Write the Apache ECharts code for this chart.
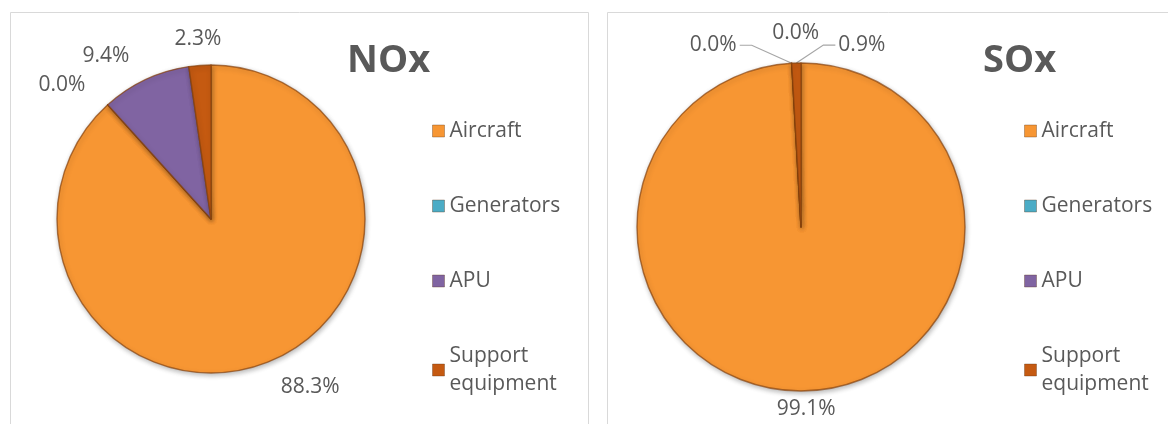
<!DOCTYPE html>
<html>
<head>
<meta charset="utf-8">
<title>NOx and SOx emission shares by source</title>
<script src="https://cdn.jsdelivr.net/npm/echarts@6/dist/echarts.min.js"></script>
<style>
  html, body { margin: 0; padding: 0; background: #ffffff; }
  #chart { width: 1168px; height: 424px; }
</style>
</head>
<body>
<div id="chart"></div>
<script>
// Emission sources and their share (%) of each pollutant
const categories = ['Aircraft', 'Generators', 'APU', 'Support equipment'];
const noxShares = [88.3, 0.0, 9.4, 2.3];
const soxShares = [99.1, 0.0, 0.0, 0.9];
const pollutants = ['NOx', 'SOx'];

const sliceColors = ['#F79633', '#4BACC6', '#8064A2', '#C55A11'];
const textGray = '#595959';
const fontFamily = '"Open Sans", "Liberation Sans", sans-serif';

function sliceData(shares) {
  return categories.map(function (name, i) {
    return {
      name: name,
      value: shares[i],
      itemStyle: { color: sliceColors[i] },
      // the dominant slice carries no leader line
      labelLine: { show: shares[i] < 5 }
    };
  });
}

function pctLabel(p) {
  return p.value.toFixed(1) + '%';
}

// Labels of slices pointing almost straight up or down sit centred
// over their leader-line anchor instead of hanging off to one side.
function centreNearVertical(p) {
  const pts = p.labelLinePoints;
  if (!pts) return {};
  const vx = pts[1][0] - pts[0][0];
  const vy = pts[1][1] - pts[0][1];
  const len = Math.hypot(vx, vy) || 1;
  if (Math.abs(vx / len) < 0.2) {
    return { x: pts[1][0], align: 'center' };
  }
  return {};
}

// Thin slices that meet at the top of the SOx pie get their labels
// fanned out left / centre / right with bent leader lines.
function fanSmallLabels(p) {
  const shares = soxShares;
  const small = categories.map(function (_, i) { return i; })
    .filter(function (i) { return shares[i] < 5; });
  const k = small.indexOf(p.dataIndex);
  if (k < 0) {
    return { x: p.labelRect.x - 5, align: 'center' };
  }
  const pts = p.labelLinePoints;
  if (!pts) return {};
  const rim = pts[0];
  const slot = k - (small.length - 1) / 2;
  const rise = 18;
  if (slot < 0) {
    const bend = [rim[0] - 40, rim[1] - rise];
    const end = [bend[0] - 12, bend[1]];
    return { x: end[0] - 3, y: end[1], align: 'right', labelLinePoints: [rim, bend, end] };
  }
  if (slot > 0) {
    const bend = [rim[0] + 27, rim[1] - rise];
    const end = [bend[0] + 12, bend[1]];
    return { x: end[0] + 3, y: end[1], align: 'left', labelLinePoints: [rim, bend, end] };
  }
  return { x: rim[0] + 4, y: rim[1] - 30, align: 'center', labelLinePoints: [rim, rim] };
}

const sliceStyle = {
  borderColor: 'rgba(135, 66, 12, 0.7)',
  borderWidth: 1.4,
  shadowBlur: 5,
  shadowColor: 'rgba(0, 0, 0, 0.28)',
  shadowOffsetX: 1,
  shadowOffsetY: 2
};

const labelStyle = {
  show: true,
  position: 'outside',
  formatter: pctLabel,
  color: textGray,
  fontFamily: fontFamily,
  fontSize: 21
};

function legendFor(left) {
  return {
    orient: 'vertical',
    left: left,
    top: 117,
    padding: 0,
    itemGap: 47,
    itemWidth: 12,
    itemHeight: 12,
    icon: 'rect',
    selectedMode: false,
    itemStyle: { borderColor: 'rgba(90, 50, 20, 0.35)', borderWidth: 1 },
    textStyle: {
      fontFamily: fontFamily,
      fontSize: 21,
      color: textGray,
      lineHeight: 28,
      width: 122,
      overflow: 'break'
    },
    data: categories
  };
}

function titleFor(text, left) {
  return {
    text: text,
    left: left,
    top: 42,
    padding: 0,
    textStyle: { fontFamily: fontFamily, fontWeight: 'bold', fontSize: 38, color: textGray }
  };
}

const chart = echarts.init(document.getElementById('chart'), null, { renderer: 'canvas' });

chart.setOption({
  backgroundColor: '#ffffff',
  animation: false,
  graphic: [
    { type: 'rect', shape: { x: 10.5, y: 12.5, width: 578, height: 430 },
      style: { fill: 'none', stroke: '#D9D9D9', lineWidth: 1 }, silent: true },
    { type: 'rect', shape: { x: 607.5, y: 12.5, width: 580, height: 430 },
      style: { fill: 'none', stroke: '#D9D9D9', lineWidth: 1 }, silent: true }
  ],
  title: [titleFor(pollutants[0], 347), titleFor(pollutants[1], 983)],
  legend: [legendFor(432), legendFor(1024)],
  series: [
    {
      name: pollutants[0],
      type: 'pie',
      center: [211, 219],
      radius: 154,
      startAngle: 90,
      clockwise: true,
      avoidLabelOverlap: false,
      emphasis: { disabled: true },
      itemStyle: sliceStyle,
      label: labelStyle,
      // leader lines only place the labels here; they are not drawn
      labelLine: { show: true, length: 26, length2: 0, lineStyle: { opacity: 0 } },
      labelLayout: centreNearVertical,
      data: sliceData(noxShares)
    },
    {
      name: pollutants[1],
      type: 'pie',
      center: [801, 227],
      radius: 164,
      startAngle: 90,
      clockwise: true,
      avoidLabelOverlap: false,
      emphasis: { disabled: true },
      itemStyle: sliceStyle,
      label: labelStyle,
      labelLine: { show: true, length: 18, length2: 0,
        lineStyle: { color: '#A6A6A6', width: 1.2 } },
      labelLayout: fanSmallLabels,
      data: sliceData(soxShares)
    }
  ]
});
</script>
</body>
</html>
